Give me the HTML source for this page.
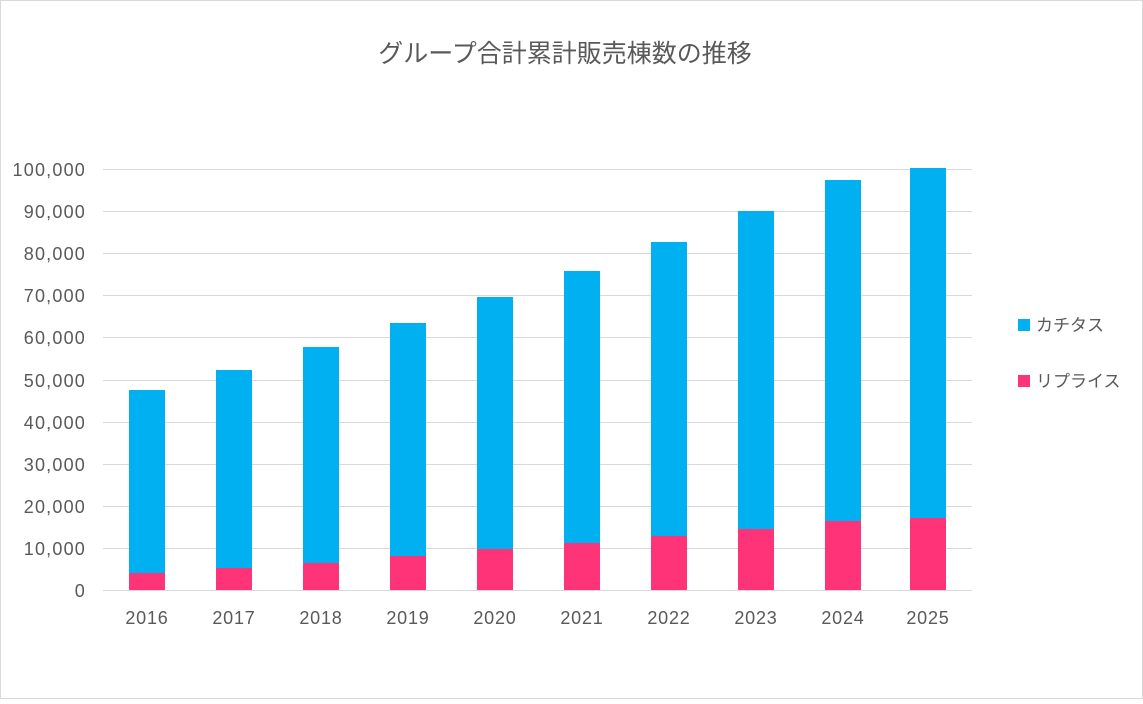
<!DOCTYPE html>
<html><head><meta charset="utf-8"><style>
body{margin:0;background:#fff;}
</style></head><body>
<svg width="1143" height="699" xmlns="http://www.w3.org/2000/svg" font-family="'Liberation Sans','Noto Sans CJK JP',sans-serif">
<rect x="0.5" y="0.5" width="1142" height="698" fill="#fff" stroke="#d9d9d9"/>
<text x="565" y="62" text-anchor="middle" font-size="25" fill="#595959">グループ合計累計販売棟数の推移</text>
<g stroke="#d9d9d9" stroke-width="1">
<line x1="103" x2="972" y1="169.5" y2="169.5"/><line x1="103" x2="972" y1="211.5" y2="211.5"/>
<line x1="103" x2="972" y1="253.5" y2="253.5"/><line x1="103" x2="972" y1="295.5" y2="295.5"/>
<line x1="103" x2="972" y1="337.5" y2="337.5"/><line x1="103" x2="972" y1="380.5" y2="380.5"/>
<line x1="103" x2="972" y1="422.5" y2="422.5"/><line x1="103" x2="972" y1="464.5" y2="464.5"/>
<line x1="103" x2="972" y1="506.5" y2="506.5"/><line x1="103" x2="972" y1="548.5" y2="548.5"/>
<line x1="103" x2="972" y1="590.5" y2="590.5"/>
</g>
<g font-size="18" fill="#595959" text-anchor="end" letter-spacing="1.2">
<text x="86" y="176">100,000</text><text x="86" y="218">90,000</text><text x="86" y="260">80,000</text>
<text x="86" y="302">70,000</text><text x="86" y="344">60,000</text><text x="86" y="387">50,000</text>
<text x="86" y="429">40,000</text><text x="86" y="471">30,000</text><text x="86" y="513">20,000</text>
<text x="86" y="555">10,000</text><text x="86" y="597">0</text>
</g>
<g fill="#00B0F0">
<rect x="129" y="390" width="36" height="200"/><rect x="216" y="370" width="36" height="220"/>
<rect x="303" y="347" width="36" height="243"/><rect x="390" y="323" width="36" height="267"/>
<rect x="477" y="297" width="36" height="293"/><rect x="564" y="271" width="36" height="319"/>
<rect x="651" y="242" width="36" height="348"/><rect x="738" y="211" width="36" height="379"/>
<rect x="825" y="180" width="36" height="410"/><rect x="910" y="168" width="36" height="422"/>
</g>
<g fill="#FF3377">
<rect x="129" y="573" width="36" height="17"/><rect x="216" y="568" width="36" height="22"/>
<rect x="303" y="563" width="36" height="27"/><rect x="390" y="556" width="36" height="34"/>
<rect x="477" y="549" width="36" height="41"/><rect x="564" y="543" width="36" height="47"/>
<rect x="651" y="536" width="36" height="54"/><rect x="738" y="529" width="36" height="61"/>
<rect x="825" y="521" width="36" height="69"/><rect x="910" y="518" width="36" height="72"/>
</g>
<g font-size="18" fill="#595959" text-anchor="middle" letter-spacing="0.8">
<text x="147" y="624">2016</text><text x="234" y="624">2017</text><text x="321" y="624">2018</text>
<text x="408" y="624">2019</text><text x="495" y="624">2020</text><text x="582" y="624">2021</text>
<text x="669" y="624">2022</text><text x="756" y="624">2023</text><text x="843" y="624">2024</text>
<text x="928" y="624">2025</text>
</g>
<rect x="1018" y="319" width="12" height="12" fill="#00B0F0"/>
<text x="1036" y="331" font-size="17" fill="#595959">カチタス</text>
<rect x="1018" y="375" width="12" height="12" fill="#FF3377"/>
<text x="1036" y="387" font-size="17" fill="#595959">リプライス</text>
</svg>
</body></html>
